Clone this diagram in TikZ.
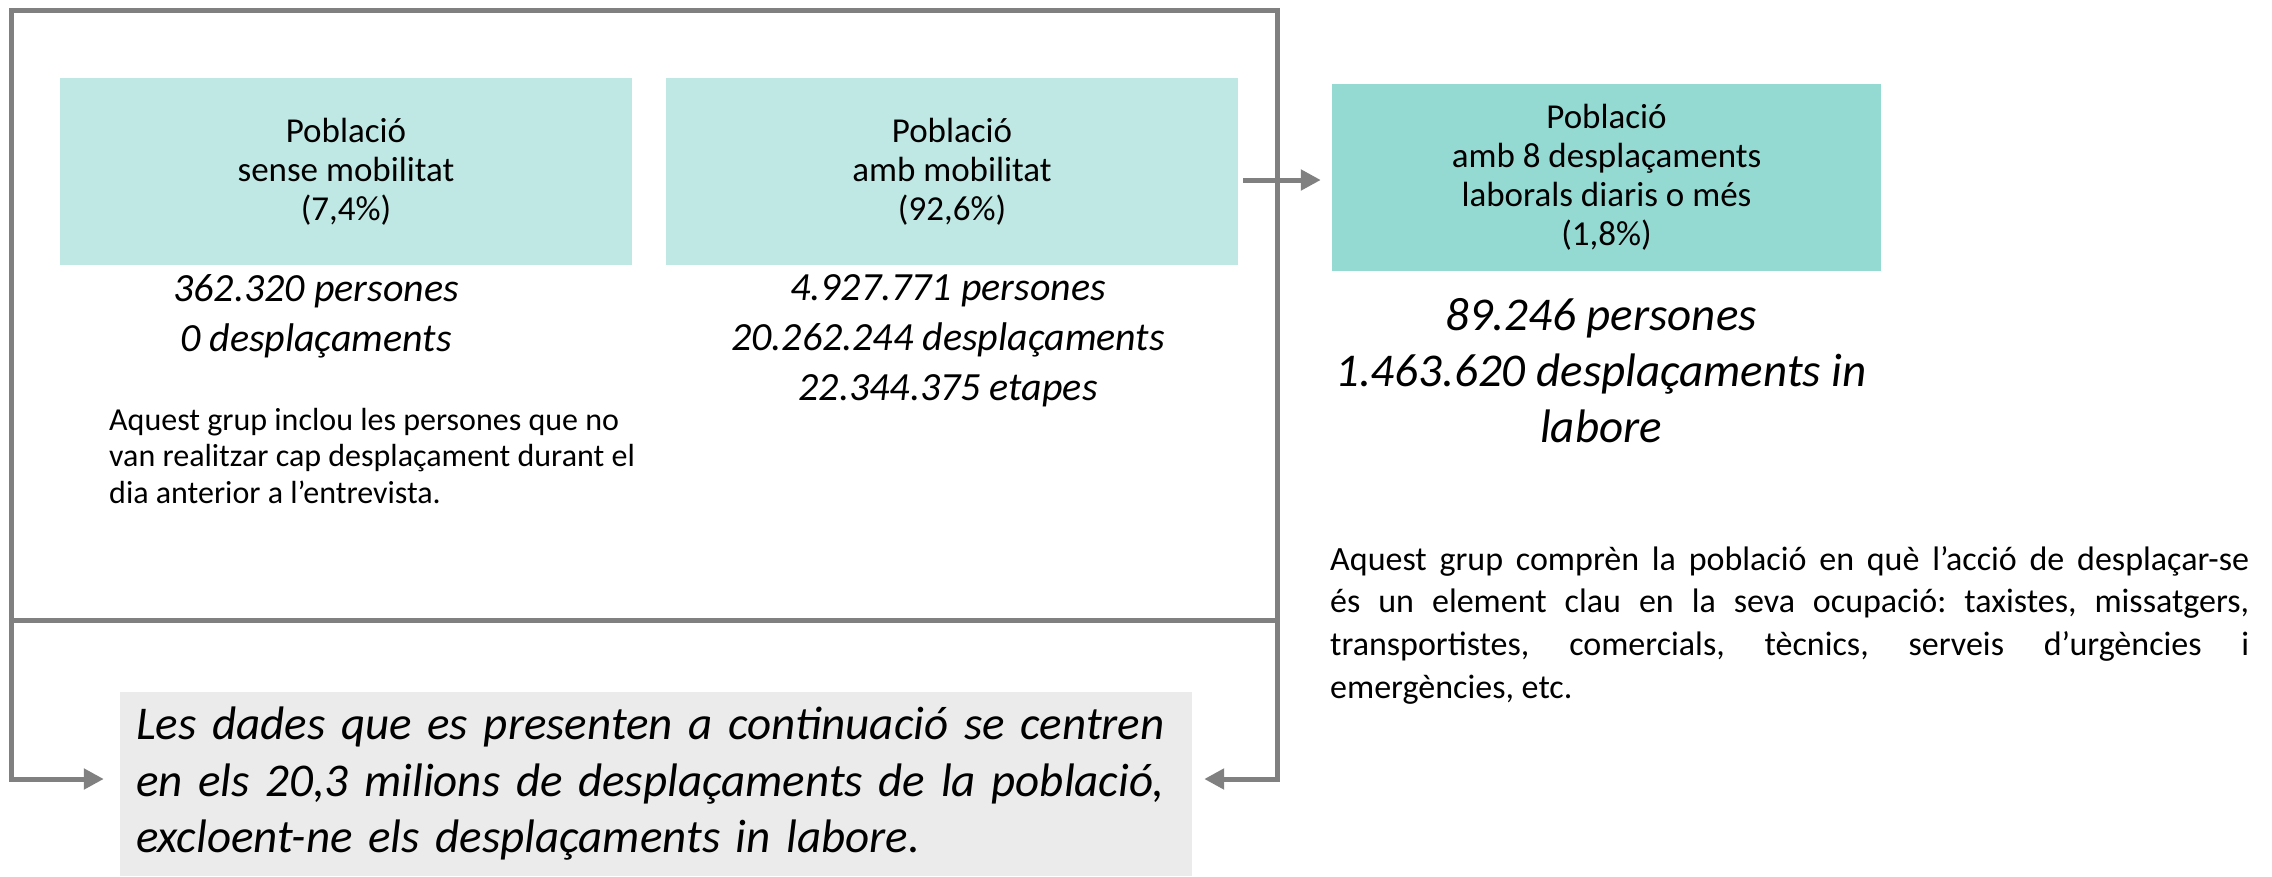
\documentclass[tikz,border=0pt]{standalone}
\usepackage{fontspec}
\setmainfont{Carlito}
\usetikzlibrary{arrows.meta, positioning}
\hyphenpenalty=10000
\frenchspacing

\definecolor{tealclar}{HTML}{BFE8E4}
\definecolor{tealfosc}{HTML}{95DAD2}
\definecolor{grislinia}{HTML}{808080}
\definecolor{grisfons}{HTML}{EBEBEB}

\tikzset{
  caixa/.style={fill=tealclar, minimum width=572pt, minimum height=187pt, inner sep=0pt, align=center, font=\fontsize{35}{39}\selectfont},
  xifres/.style={inner sep=0pt, align=center, font=\fontsize{40}{50}\selectfont\itshape},
  nota/.style={inner sep=0pt, anchor=west, align=left, font=\fontsize{32}{36.5}\selectfont},
  fletxa/.style={draw=grislinia, line width=5pt, -{Triangle[length=20pt,width=20pt]}},
}

\begin{document}
\begin{tikzpicture}[x=1pt, y=-1pt]
    \useasboundingbox (0,0) rectangle (2272,876);
    \node[draw=grislinia, line width=5pt, minimum width=1266pt, minimum height=610pt, inner sep=0pt, outer sep=0pt] (marc) at (644.5,315.5) {};
    \node[caixa] (sense) at (346,171.5) {Població\\sense mobilitat\\(7,4\%)};
    \node[caixa] (amb) at (952,171.5) {Població\\amb mobilitat\\(92,6\%)};
    \node[caixa, fill=tealfosc, minimum width=549pt] (labore) at (1606.5,177.5) {Població\\amb 8 desplaçaments\\laborals diaris o més\\(1,8\%)};
    \node[xifres] (sensexif) at (316,316) {362.320 persones\\0 desplaçaments};
    \node[xifres] (ambxif) at (948,341) {4.927.771 persones\\20.262.244 desplaçaments\\22.344.375 etapes};
    \node[xifres, font=\fontsize{47}{56}\selectfont\itshape] (laborexif) at (1601,371) {89.246 persones\\1.463.620 desplaçaments in\\labore};
    \node[nota] (sensenota) at (109,456) {Aquest grup inclou les persones que no\\van realitzar cap desplaçament durant el\\dia anterior a l’entrevista.};
    \node[nota, text width=919pt, align=justify, font=\fontsize{34}{42.7}\selectfont] (laborenota) at (1330,625) {Aquest grup comprèn la població en què l’acció de desplaçar-se\linebreak és un element clau en la seva ocupació: taxistes, missatgers,\linebreak transportistes, comercials, tècnics, serveis d’urgències i\linebreak emergències, etc.};
    \node[fill=grisfons, minimum height=184pt, text width=1040pt, inner xsep=16pt, inner ysep=0pt, align=left, font=\fontsize{47}{56.5}\selectfont\itshape] (dades) at (656,784) {Les dades que es presenten a continuació se centren\\en els 20,3 milions de desplaçaments de la població,\\excloent-ne els desplaçaments in labore.};
    \draw[fletxa] ([xshift=5pt,yshift=-8.5pt]amb.east) -- ([xshift=-11pt,yshift=-2.5pt]labore.west);
    \draw[fletxa, {Triangle[length=20pt,width=20pt]}-{Triangle[length=20pt,width=20pt]}] ([xshift=-16pt,yshift=5pt]dades.west) -| (marc.south west) -- (marc.south east) |- ([xshift=12pt,yshift=5pt]dades.east);
\end{tikzpicture}
\end{document}
